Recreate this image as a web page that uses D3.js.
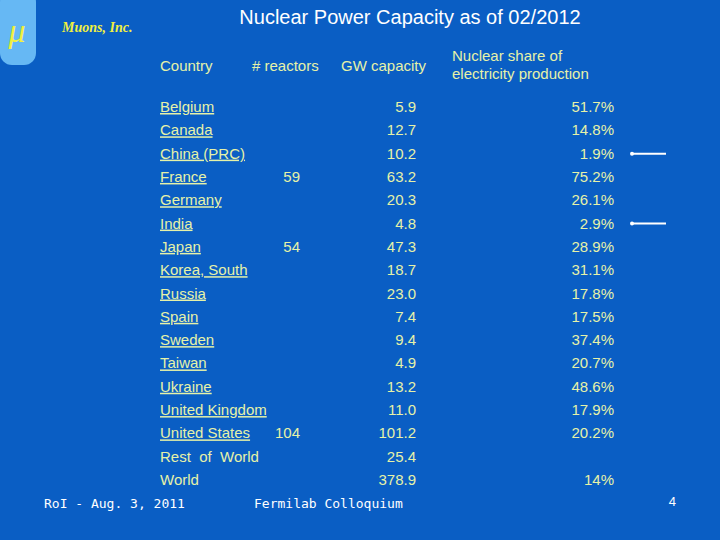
<!DOCTYPE html><html><head><script src="https://cdn.jsdelivr.net/npm/d3@7"></script>
<style>body{margin:0;background:#0a5ec4} text{white-space:pre}</style></head><body><script>
const countries=["Belgium","Canada","China (PRC)","France","Germany","India","Japan","Korea, South","Russia","Spain","Sweden","Taiwan","Ukraine","United Kingdom","United States","Rest  of  World","World"];
const reactors=["","","","59","","","54","","","","","","","","104","",""];
const gw=["5.9","12.7","10.2","63.2","20.3","4.8","47.3","18.7","23.0","7.4","9.4","4.9","13.2","11.0","101.2","25.4","378.9"];
const share=["51.7%","14.8%","1.9%","75.2%","26.1%","2.9%","28.9%","31.1%","17.8%","17.5%","37.4%","20.7%","48.6%","17.9%","20.2%","","14%"];
const arrows=["China (PRC)","India"];
const W=720,H=540,col="#e6f2a8";
const svg=d3.select("body").append("svg").attr("width",W).attr("height",H);
svg.append("rect").attr("width",W).attr("height",H).attr("fill","#0a5ec4");
svg.append("rect").attr("x",0).attr("y",-10).attr("width",36).attr("height",75).attr("rx",12).attr("fill","#66b8f4");
svg.append("text").attr("x",17).attr("y",42).attr("text-anchor","middle").attr("font-family","Liberation Serif").attr("font-style","italic").attr("font-size",34).attr("fill","#f0f040").text("μ");
svg.append("text").attr("x",62).attr("y",32).attr("font-family","Liberation Serif").attr("font-weight","bold").attr("font-style","italic").attr("font-size",14).attr("fill","#f0f040").text("Muons, Inc.");
svg.append("text").attr("x",410).attr("y",24).attr("text-anchor","middle").attr("font-family","Liberation Sans").attr("font-size",20).attr("fill","#fff").text("Nuclear Power Capacity as of 02/2012");
const f="Liberation Sans";
const hd=(x,y,t,a)=>svg.append("text").attr("x",x).attr("y",y).attr("text-anchor",a||"start").attr("font-family",f).attr("font-size",15).attr("fill",col).text(t);
hd(160,71,"Country");hd(252,71,"# reactors");hd(341,71,"GW capacity");hd(452,61,"Nuclear share of");hd(452,79,"electricity production");
const y=d3.scalePoint().domain(countries).range([112,485]);
const g=svg.append("g").attr("font-family",f).attr("font-size",15).attr("fill",col);
countries.forEach((c,i)=>{
 const t=g.append("text").attr("x",160).attr("y",y(c)).text(c);
 if(i<15) t.attr("text-decoration","underline");
 g.append("text").attr("x",300).attr("y",y(c)).attr("text-anchor","end").text(reactors[i]);
 g.append("text").attr("x",416).attr("y",y(c)).attr("text-anchor","end").text(gw[i]);
 g.append("text").attr("x",614).attr("y",y(c)).attr("text-anchor","end").text(share[i]);
});
arrows.forEach(c=>{const yy=y(c)-5;
 svg.append("line").attr("x1",632).attr("x2",666).attr("y1",yy).attr("y2",yy).attr("stroke","#fff").attr("stroke-width",2);
 svg.append("circle").attr("cx",632).attr("cy",yy).attr("r",2).attr("fill","#fff");});
svg.append("text").attr("x",44).attr("y",508).attr("font-family","DejaVu Sans Mono").attr("font-size",13).attr("fill","#fff").text("RoI - Aug. 3, 2011");
svg.append("text").attr("x",254).attr("y",508).attr("font-family","DejaVu Sans Mono").attr("font-size",13).attr("fill","#fff").text("Fermilab Colloquium");
svg.append("text").attr("x",676).attr("y",506).attr("text-anchor","end").attr("font-family",f).attr("font-size",13).attr("fill","#fff").text("4");
</script></body></html>
